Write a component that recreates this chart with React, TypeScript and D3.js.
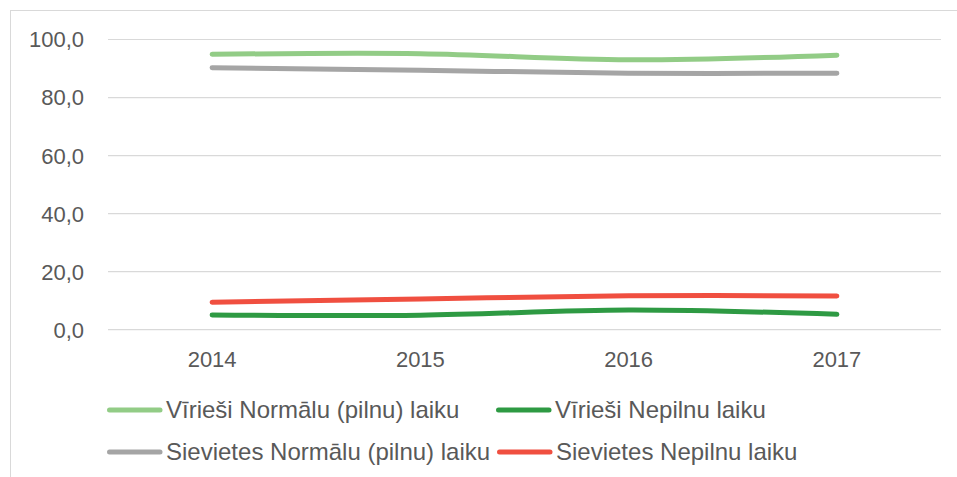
import React from "react";
import * as d3 from "d3";

const years = ["2014", "2015", "2016", "2017"];
const yTicks = [0, 20, 40, 60, 80, 100];

const viriesiNormalu = [94.9, 95.1, 93.0, 94.6];
const viriesiNepilnu = [5.1, 5.0, 6.8, 5.3];
const sievietesNormalu = [90.3, 89.4, 88.4, 88.4];
const sievietesNepilnu = [9.5, 10.6, 11.7, 11.6];

const seriesNames = [
  "Vīrieši Normālu (pilnu) laiku",
  "Vīrieši Nepilnu laiku",
  "Sievietes Normālu (pilnu) laiku",
  "Sievietes Nepilnu laiku",
];
const seriesValues = [viriesiNormalu, viriesiNepilnu, sievietesNormalu, sievietesNepilnu];
const seriesColors = ["#92cc86", "#2e9a43", "#a5a5a5", "#f04f40"];

const W = 957;
const H = 477;
const plotLeft = 108;
const plotRight = 941;
const yTop = 39.5;
const yBottom = 329.7;
const font = "'Liberation Sans', Arial, sans-serif";
const textColor = "#595959";

export default function App() {
  const x = d3.scaleBand<string>().domain(years).range([plotLeft, plotRight]);
  const y = d3.scaleLinear().domain([0, 100]).range([yBottom, yTop]);
  const line = d3
    .line<number>()
    .x((_, i) => (x(years[i]) as number) + x.bandwidth() / 2)
    .y((d) => y(d))
    .curve(d3.curveCatmullRom.alpha(0.5));

  const legendPos = [
    { lx: 107, ly: 410 },
    { lx: 496, ly: 410 },
    { lx: 107, ly: 452 },
    { lx: 497, ly: 452 },
  ];

  return (
    <svg
      width={W}
      height={H}
      style={{ position: "absolute", left: 0, top: 0, background: "#fff" }}
      fontFamily={font}
    >
      <rect x={10.5} y={10.5} width={W + 10} height={H + 10} fill="#fff" stroke="#d9d9d9" strokeWidth={1} />
      {yTicks.map((t) => (
        <g key={t}>
          <line x1={plotLeft} x2={plotRight} y1={y(t)} y2={y(t)} stroke="#d9d9d9" strokeWidth={1.2} />
          <text x={84} y={y(t)} dy="0.36em" textAnchor="end" fontSize={22} fill={textColor}>
            {t.toFixed(1).replace(".", ",")}
          </text>
        </g>
      ))}
      {years.map((yr) => (
        <text
          key={yr}
          x={(x(yr) as number) + x.bandwidth() / 2}
          y={366.5}
          textAnchor="middle"
          fontSize={22}
          fill={textColor}
        >
          {yr}
        </text>
      ))}
      {seriesValues.map((vals, i) => (
        <path
          key={i}
          d={line(vals) || ""}
          fill="none"
          stroke={seriesColors[i]}
          strokeWidth={5}
          strokeLinecap="round"
          strokeLinejoin="round"
        />
      ))}
      {seriesNames.map((name, i) => {
        const { lx, ly } = legendPos[i];
        return (
          <g key={name}>
            <line x1={lx + 2.5} x2={lx + 53} y1={ly} y2={ly} stroke={seriesColors[i]} strokeWidth={5} strokeLinecap="round" />
            <text x={lx + 59} y={ly + 8} fontSize={24} fill={textColor}>
              {name}
            </text>
          </g>
        );
      })}
    </svg>
  );
}
